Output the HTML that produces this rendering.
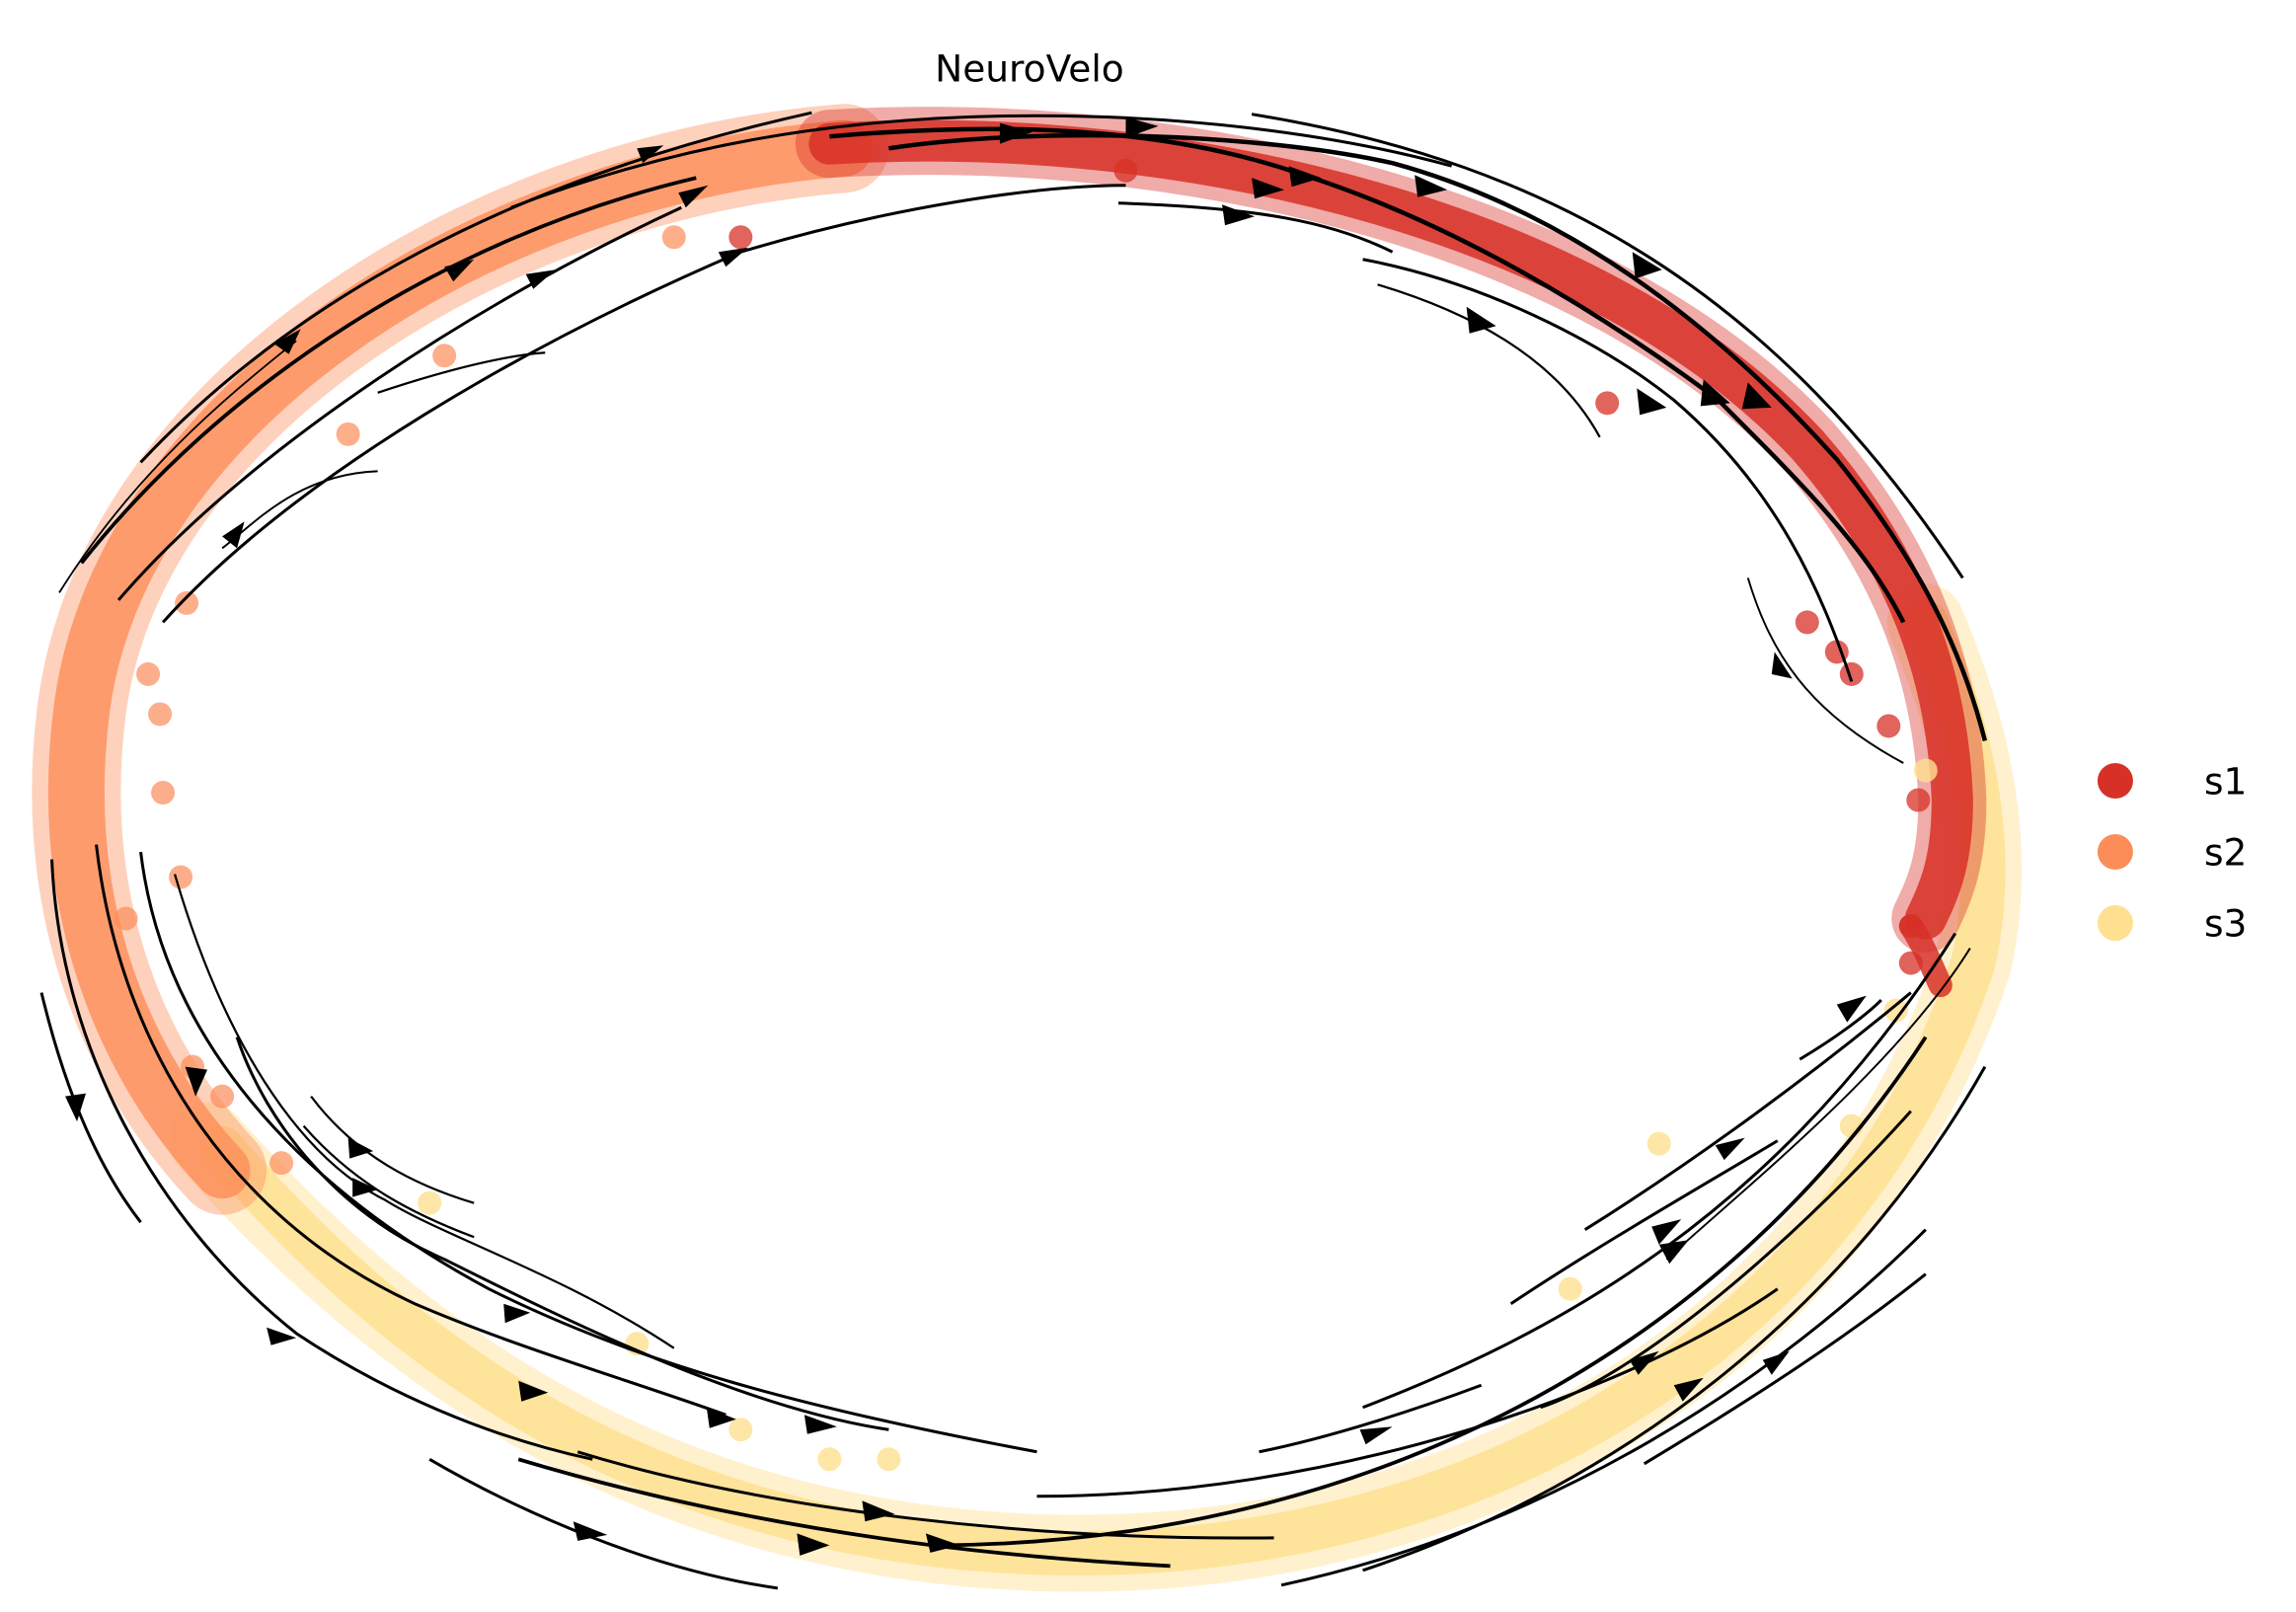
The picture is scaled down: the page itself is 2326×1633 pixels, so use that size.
<!DOCTYPE html>
<html><head><meta charset="utf-8"><style>
html,body{margin:0;padding:0;background:#fff;}
svg{display:block;}
text{font-family:"DejaVu Sans","Liberation Sans",sans-serif;}
</style></head><body>
<svg width="2326" height="1633" viewBox="0 0 1550 1088" xmlns="http://www.w3.org/2000/svg">
<rect width="1550" height="1088" fill="#fff"/>
<text x="695" y="55" font-size="25" text-anchor="middle" fill="#000">NeuroVelo</text>

<g fill="none" stroke-linecap="round">
<path d="M140 770 C300 950 480 1040 700 1048 C1000 1058 1250 900 1332 650 C1350 570 1330 490 1300 420" stroke="#fee090" stroke-width="52" opacity="0.45"/>
<path d="M150 775 C300 950 480 1040 700 1048 C1000 1058 1250 900 1332 650 C1350 570 1330 490 1300 420" stroke="#fee090" stroke-width="30" opacity="0.85"/>
<path d="M570 100 C320 120 80 280 55 480 C40 600 75 710 150 790" stroke="#fc8d59" stroke-width="60" opacity="0.4"/>
<path d="M570 100 C320 120 80 280 55 480 C40 600 75 710 150 790" stroke="#fc8d59" stroke-width="38" opacity="0.8"/>
<path d="M560 97 C800 82 1080 150 1220 300 C1290 380 1315 460 1318 540 C1318 580 1310 600 1300 620" stroke="#d73027" stroke-width="46" opacity="0.4"/>
<path d="M560 97 C800 82 1080 150 1220 300 C1290 380 1315 460 1318 540 C1318 580 1310 600 1300 620" stroke="#d73027" stroke-width="28" opacity="0.85"/>
<path d="M1290 625 C1300 640 1305 655 1310 665" stroke="#d73027" stroke-width="16" opacity="0.85"/>
</g>
<g fill="#fc8d59" opacity="0.7">
<circle cx="110" cy="535" r="8"/><circle cx="122" cy="592" r="8"/><circle cx="108" cy="482" r="8"/><circle cx="235" cy="293" r="8"/><circle cx="126" cy="407" r="8"/><circle cx="130" cy="720" r="8"/><circle cx="190" cy="785" r="8"/><circle cx="100" cy="455" r="8"/><circle cx="300" cy="240" r="8"/><circle cx="455" cy="160" r="8"/><circle cx="150" cy="740" r="8"/><circle cx="85" cy="620" r="8"/>
</g>
<g fill="#d73027" opacity="0.75">
<circle cx="1295" cy="540" r="8"/><circle cx="1290" cy="625" r="8"/><circle cx="1085" cy="272" r="8"/><circle cx="1220" cy="420" r="8"/><circle cx="1250" cy="455" r="8"/><circle cx="1275" cy="490" r="8"/><circle cx="500" cy="160" r="8"/><circle cx="760" cy="115" r="8"/><circle cx="1240" cy="440" r="8"/><circle cx="1290" cy="650" r="8"/>
</g>
<g fill="#fee090" opacity="0.8">
<circle cx="1120" cy="772" r="8"/><circle cx="1280" cy="682" r="8"/><circle cx="290" cy="812" r="8"/><circle cx="430" cy="907" r="8"/><circle cx="1300" cy="520" r="8"/><circle cx="1060" cy="870" r="8"/><circle cx="1250" cy="760" r="8"/><circle cx="600" cy="985" r="8"/><circle cx="500" cy="965" r="8"/><circle cx="560" cy="985" r="8"/>
</g>

<g fill="none" stroke="#000" stroke-width="2">
<path d="M95 312 C200 200 350 120 548 76"/>
<path d="M55 380 C150 260 300 160 470 120" stroke-width="2.5"/>
<path d="M80 405 C170 300 330 200 460 140"/>
<path d="M110 420 C200 320 360 230 500 170"/>
<path d="M500 170 C600 140 700 125 760 125"/>
<path d="M40 400 C90 320 150 270 200 230" stroke-width="1.2"/>
<path d="M255 318 C200 320 170 355 150 370" stroke-width="1.3"/>
<path d="M255 265 C300 250 340 240 368 238" stroke-width="1.5"/>
<path d="M345 140 C450 100 560 78 700 78 C800 78 900 90 980 112"/>
<path d="M600 100 C700 85 850 90 940 110 C1050 140 1150 210 1240 310 C1280 360 1320 420 1340 500" stroke-width="3"/>
<path d="M560 92 C700 80 800 90 880 118 C980 150 1080 210 1160 270 C1220 330 1260 370 1285 420" stroke-width="3"/>
<path d="M755 137 C850 140 900 150 940 170"/>
<path d="M920 175 C1000 190 1080 230 1130 270 C1200 330 1230 400 1250 460"/>
<path d="M930 192 C990 210 1050 240 1080 295" stroke-width="1.5"/>
<path d="M845 77 C1050 110 1200 200 1325 390"/>
<path d="M1180 390 C1195 440 1220 480 1285 515" stroke-width="1.3"/>
<path d="M28 670 C40 720 60 780 95 825"/>
<path d="M35 580 C40 700 100 820 200 900 C260 940 330 970 400 985"/>
<path d="M65 570 C80 700 150 820 280 880 C350 910 420 930 490 955"/>
<path d="M95 575 C110 700 200 800 330 870 C430 920 540 950 700 980"/>
<path d="M118 590 C150 700 200 780 260 810 C300 835 380 860 455 910" stroke-width="1.5"/>
<path d="M160 700 C180 760 230 820 300 850 C380 890 500 950 600 965"/>
<path d="M210 740 C240 780 280 800 320 812" stroke-width="1.5"/>
<path d="M205 760 C240 800 280 820 320 835" stroke-width="1.5"/>
<path d="M290 985 C350 1020 440 1060 525 1072"/>
<path d="M350 985 C500 1030 650 1050 790 1057" stroke-width="2.5"/>
<path d="M390 980 C520 1020 700 1040 860 1038"/>
<path d="M865 1070 C1050 1030 1200 930 1300 830"/>
<path d="M1110 988 C1190 940 1250 900 1300 860"/>
<path d="M920 1060 C1100 1000 1250 880 1340 720"/>
<path d="M640 1043 C900 1040 1150 930 1300 700" stroke-width="2.5"/>
<path d="M700 1010 C900 1010 1100 940 1200 870"/>
<path d="M850 980 C900 970 960 950 1000 935"/>
<path d="M920 950 C1050 900 1200 820 1320 630"/>
<path d="M1020 880 C1080 840 1150 800 1200 770"/>
<path d="M1070 830 C1150 780 1230 720 1290 670"/>
<path d="M1215 715 C1240 700 1260 685 1270 675"/>
<path d="M1125 850 C1180 800 1280 720 1330 640" stroke-width="1.3"/>
<path d="M1040 950 C1100 930 1200 850 1290 750"/>
</g>
<g fill="#000">
<polygon points="430,100 448,98 434,110"/>
<polygon points="458,130 478,125 463,140"/>
<polygon points="300,180 320,175 306,190"/>
<polygon points="355,185 375,182 360,195"/>
<polygon points="485,170 505,167 490,180"/>
<polygon points="185,232 203,222 195,239"/>
<polygon points="150,362 165,352 160,370"/>
<polygon points="675,83 697,89 675,97"/>
<polygon points="760,79 782,85 760,93"/>
<polygon points="845,120 867,128 847,134"/>
<polygon points="870,112 892,120 872,126"/>
<polygon points="825,138 847,146 827,152"/>
<polygon points="955,118 977,128 957,133"/>
<polygon points="1102,170 1122,182 1104,188"/>
<polygon points="990,207 1010,220 992,225"/>
<polygon points="1105,262 1125,275 1107,280"/>
<polygon points="1150,256 1168,272 1148,274"/>
<polygon points="1180,258 1196,275 1176,276"/>
<polygon points="1198,440 1210,458 1196,455"/>
<polygon points="44,740 52,757 58,738"/>
<polygon points="125,720 132,740 140,722"/>
<polygon points="180,896 200,903 183,908"/>
<polygon points="235,768 252,777 236,782"/>
<polygon points="238,795 255,803 238,808"/>
<polygon points="340,880 358,886 341,893"/>
<polygon points="350,932 370,940 352,946"/>
<polygon points="477,950 497,958 479,964"/>
<polygon points="543,955 565,963 545,968"/>
<polygon points="387,1027 410,1036 390,1040"/>
<polygon points="538,1035 560,1043 540,1050"/>
<polygon points="582,1013 604,1022 584,1027"/>
<polygon points="625,1035 648,1043 628,1048"/>
<polygon points="918,965 940,963 922,975"/>
<polygon points="1115,828 1135,823 1120,840"/>
<polygon points="1120,840 1140,837 1127,853"/>
<polygon points="1100,918 1120,912 1106,928"/>
<polygon points="1130,935 1150,930 1136,946"/>
<polygon points="1190,918 1208,912 1196,928"/>
<polygon points="1158,773 1178,768 1164,783"/>
<polygon points="1240,678 1260,672 1247,690"/>
</g>

<circle cx="1428" cy="527" r="12" fill="#d73027"/>
<circle cx="1428" cy="575" r="12" fill="#fc8d59"/>
<circle cx="1428" cy="623" r="12" fill="#fee090"/>
<text x="1488" y="536" font-size="25">s1</text>
<text x="1488" y="584" font-size="25">s2</text>
<text x="1488" y="632" font-size="25">s3</text>
</svg>
</body></html>
